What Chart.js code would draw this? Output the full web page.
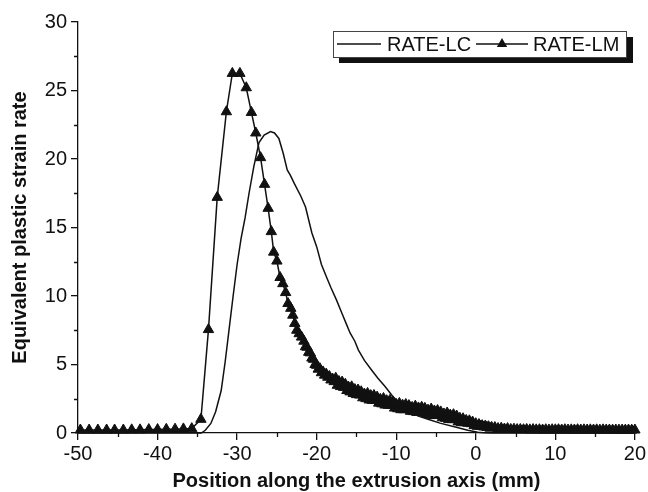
<!DOCTYPE html>
<html><head><meta charset="utf-8">
<script src="https://cdn.jsdelivr.net/npm/chart.js@4/dist/chart.umd.min.js"></script>
<style>html,body{margin:0;padding:0;background:#fff}</style>
</head><body>
<canvas id="c" width="648" height="492"></canvas>
<script>
const seriesNames = ['RATE-LC', 'RATE-LM'];
const xTitle = 'Position along the extrusion axis (mm)';
const yTitle = 'Equivalent plastic strain rate';
const xTicks = [-50, -40, -30, -20, -10, 0, 10, 20];
const yTicks = [0, 5, 10, 15, 20, 25, 30];
const xMinor = [-45, -35, -25, -15, -5, 5, 15];
const yMinor = [2.5, 7.5, 12.5, 17.5, 22.5, 27.5];

const lcX = [-50,-34.5,-34.0,-33.3,-32.7,-32.0,-31.5,-31.0,-30.5,-30.0,-29.5,-29.0,-28.5,-27.9,-27.25,-26.6,-25.8,-25.3,-24.75,-24.2,-23.7,-23.3,-22.8,-22.0,-21.4,-20.6,-20.0,-19.4,-18.7,-18.2,-17.5,-16.8,-16.3,-15.8,-15.2,-14.75,-14.0,-13.1,-12.3,-11.4,-10.4,-9.5,-8.5,-7.3,-6.0,-4.5,-2.7,-1.0,0.25,1.0,2.0,20];
const lcY = [0,0,0.2,0.7,1.55,3.1,5.2,7.6,10.0,12.3,14.2,15.7,17.5,19.45,21.2,21.75,22.0,21.9,21.5,20.4,19.2,18.8,18.2,17.3,16.5,14.6,13.6,12.3,11.3,10.6,9.7,8.7,8.0,7.3,6.7,6.05,5.3,4.6,4.0,3.4,2.65,2.15,1.65,1.25,1.0,0.72,0.45,0.2,0.05,0.01,0,0];

const lmX = [
 -49.7,-48.6,-47.5,-46.4,-45.4,-44.3,-43.25,-42.2,-41.1,-40.0,-38.9,-37.8,-36.75,-35.7,
 -34.55,-33.6,-32.5,-31.35,-30.6,-29.65,-28.85,-28.2,-27.65,-27.05,-26.55,-26.1,-25.7,-25.4,-25.0,-24.6,-24.25,-23.9,-23.6,-23.25,-23.0,-22.75,-22.5,-22.2,-21.9,
 -21.6,-21.4,-21.2,-21.0,-20.8,-20.6,-20.4,-20.2,-20.0,-19.8,
 -19.6,-19.4,-19.2,-19.0,-18.8,-18.6,-18.4,-18.2,-18.0,-17.8,
 -17.6,-17.4,-17.2,-17.0,-16.8,-16.6,-16.4,-16.2,-16.0,-15.8,
 -15.6,-15.4,-15.2,-15.0,-14.8,-14.6,-14.4,-14.2,-14.0,-13.8,
 -13.6,-13.4,-13.2,-13.0,-12.8,-12.6,-12.4,-12.2,-12.0,-11.8,
 -11.6,-11.4,-11.2,-11.0,-10.8,-10.6,-10.4,-10.2,-10.0,-9.8,
 -9.6,-9.4,-9.2,-9.0,-8.8,-8.6,-8.4,-8.2,-8.0,-7.8,
 -7.6,-7.4,-7.2,-7.0,-6.8,-6.6,-6.4,-6.2,-6.0,-5.8,
 -5.6,-5.4,-5.2,-5.0,-4.8,-4.6,-4.4,-4.2,-4.0,-3.8,
 -3.6,-3.4,-3.2,-3.0,-2.8,-2.6,-2.4,-2.2,-2.0,-1.8,
 -1.6,-1.4,-1.2,-1.0,-0.8,-0.6,-0.4,-0.2,0.0,0.2,
 0.4,0.6,0.8,1.0,1.2,1.4,1.6,1.8,2.0,
 2.4,2.8,3.2,3.6,4.0,4.4,4.8,5.2,5.6,6.0,
 6.4,6.8,7.2,7.6,8.0,8.4,8.8,9.2,9.6,10.0,
 10.4,10.8,11.2,11.6,12.0,12.4,12.8,13.2,13.6,14.0,
 14.4,14.8,15.2,15.6,16.0,16.4,16.8,17.2,17.6,18.0,
 18.4,18.8,19.2,19.6,20.0];
const lmY = [
 0.22,0.22,0.22,0.22,0.22,0.22,0.23,0.23,0.25,0.25,0.27,0.28,0.3,0.32,
 1.0,7.55,17.2,23.45,26.25,26.25,25.2,23.4,21.9,20.1,18.15,16.4,14.7,13.2,12.55,11.35,10.9,10.25,9.45,9.1,8.6,8.0,7.5,7.25,7.0,
 6.7,6.3,6.26,5.89,5.85,5.47,5.38,5.0,4.94,4.66,
 4.7,4.4,4.46,4.22,4.3,4.07,4.13,3.87,3.94,3.75,
 4.0,3.48,3.76,3.39,3.72,3.33,3.56,3.1,3.35,3.0,
 3.37,2.88,3.17,2.8,3.14,2.77,3.01,2.57,2.84,2.51,
 2.89,2.41,2.73,2.38,2.74,2.37,2.62,2.18,2.46,2.13,
 2.52,2.04,2.36,2.02,2.38,2.01,2.26,1.82,2.09,1.77,
 2.16,1.7,2.03,1.7,2.08,1.73,2.0,1.58,1.87,1.56,
 1.96,1.5,1.83,1.5,1.88,1.53,1.8,1.38,1.67,1.35,
 1.75,1.28,1.61,1.27,1.64,1.28,1.54,1.11,1.39,1.07,
 1.46,0.99,1.31,0.97,1.34,0.98,1.24,0.81,1.08,0.75,
 1.04,0.76,0.92,0.71,0.89,0.68,0.8,0.54,0.68,0.49,
 0.62,0.49,0.54,0.44,0.51,0.41,0.46,0.35,0.41,
 0.4,0.33,0.35,0.29,0.32,0.26,0.28,0.25,0.26,0.24,
 0.26,0.23,0.25,0.23,0.24,0.22,0.24,0.22,0.24,0.23,
 0.24,0.22,0.24,0.22,0.23,0.22,0.24,0.22,0.23,0.22,
 0.23,0.22,0.23,0.21,0.23,0.22,0.22,0.21,0.22,0.21,
 0.22,0.21,0.22,0.21,0.22];

const INK = '#111';
Chart.defaults.font.family = "'Liberation Sans', Arial, Helvetica, sans-serif";
Chart.defaults.color = INK;

const minorTicks = {
  id: 'minorTicks',
  afterDraw(chart) {
    const {ctx, scales: {x, y}} = chart;
    ctx.save();
    ctx.strokeStyle = INK; ctx.lineWidth = 1.3;
    ctx.beginPath();
    xMinor.forEach(v => { const p = Math.round(x.getPixelForValue(v)) + 0.5; ctx.moveTo(p, y.bottom); ctx.lineTo(p, y.bottom + 4); });
    yMinor.forEach(v => { const p = Math.round(y.getPixelForValue(v)) + 0.5; ctx.moveTo(x.left - 4, p); ctx.lineTo(x.left, p); });
    ctx.stroke();
    ctx.restore();
  }
};

const boxLegend = {
  id: 'boxLegend',
  afterDraw(chart) {
    const ctx = chart.ctx;
    ctx.save();
    ctx.fillStyle = INK;
    ctx.fillRect(339, 37, 294, 26);
    ctx.fillStyle = '#fff';
    ctx.fillRect(333, 31, 293, 26);
    ctx.strokeStyle = '#444'; ctx.lineWidth = 1;
    ctx.strokeRect(333.5, 31.5, 293, 26);
    ctx.strokeStyle = INK; ctx.lineWidth = 1.4;
    ctx.beginPath(); ctx.moveTo(337, 44); ctx.lineTo(381, 44); ctx.stroke();
    ctx.beginPath(); ctx.moveTo(476, 44); ctx.lineTo(528, 44); ctx.stroke();
    ctx.fillStyle = INK;
    ctx.beginPath(); ctx.moveTo(502, 38); ctx.lineTo(507.2, 47); ctx.lineTo(496.8, 47); ctx.closePath(); ctx.fill();
    ctx.font = "20px 'Liberation Sans', Arial, sans-serif";
    ctx.textBaseline = 'middle';
    ctx.fillText(chart.data.datasets[0].label, 387, 45);
    ctx.fillText(chart.data.datasets[1].label, 533, 45);
    ctx.restore();
  }
};

const axisCommon = {
  type: 'linear',
  grid: { display: true, drawOnChartArea: false, drawTicks: true, tickLength: 7, color: INK, lineWidth: 1.3 },
  border: { display: true, color: INK, width: 1.3 },
};

new Chart(document.getElementById('c'), {
  type: 'scatter',
  data: {
    datasets: [
      { label: seriesNames[0], data: lcX.map((x, i) => ({x, y: lcY[i]})), showLine: true,
        borderColor: INK, borderWidth: 1.5, pointRadius: 0, order: 0, clip: 8 },
      { label: seriesNames[1], data: lmX.map((x, i) => ({x, y: lmY[i]})), showLine: true,
        borderColor: INK, backgroundColor: INK, borderWidth: 1.5, pointStyle: 'triangle',
        pointRadius: 6, pointBorderWidth: 1, pointBorderColor: INK, pointBackgroundColor: INK, order: 1, clip: 8 }
    ]
  },
  options: {
    responsive: false, animation: false,
    layout: { padding: { top: 22, right: 10, left: 0, bottom: 0 } },
    plugins: { legend: { display: false }, tooltip: { enabled: false } },
    scales: {
      x: Object.assign({}, axisCommon, {
        min: -50, max: 20,
        afterBuildTicks: s => { s.ticks = xTicks.map(v => ({value: v})); },
        afterFit: s => { s.height = 59; },
        ticks: { color: INK, font: { size: 20 }, padding: 2, maxRotation: 0, autoSkip: false },
        title: { display: true, text: xTitle, color: INK, font: { size: 20, weight: 'bold' }, padding: { top: 0, bottom: -1 } }
      }),
      y: Object.assign({}, axisCommon, {
        min: 0, max: 30,
        afterBuildTicks: s => { s.ticks = yTicks.map(v => ({value: v})); },
        afterFit: s => { s.width = 78; },
        ticks: { color: INK, font: { size: 20 }, padding: 4, autoSkip: false },
        title: { display: true, text: yTitle, color: INK, font: { size: 20, weight: 'bold' }, padding: { top: 8, bottom: 0 } }
      })
    }
  },
  plugins: [minorTicks, boxLegend]
});
</script>
</body></html>
